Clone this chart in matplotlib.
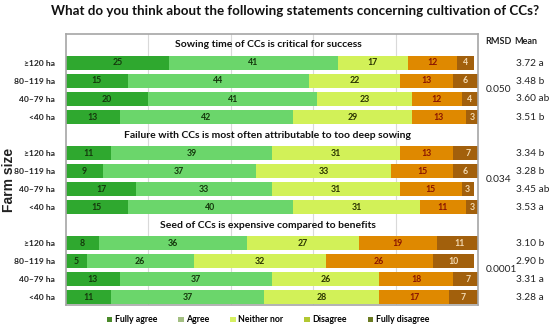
import matplotlib
matplotlib.use("Agg")
import matplotlib.pyplot as plt
from matplotlib.patches import Patch

plt.rcParams['font.family'] = ['Lato', 'DejaVu Sans']

title = "What do you think about the following statements concerning cultivation of CCs?"
statements = ["Sowing time of CCs is critical for success",
              "Failure with CCs is most often attributable to too deep sowing",
              "Seed of CCs is expensive compared to benefits"]
farm_sizes = ["≥120 ha", "80–119 ha", "40–79 ha", "<40 ha"]
categories = ["Fully agree", "Agree", "Neither nor", "Disagree", "Fully disagree"]

# values[statement][farm size] = [fully agree, agree, neither, disagree, fully disagree]
values_s1 = [[25, 41, 17, 12, 4], [15, 44, 22, 13, 6], [20, 41, 23, 12, 4], [13, 42, 29, 13, 3]]
values_s2 = [[11, 39, 31, 13, 7], [9, 37, 33, 15, 6], [17, 33, 31, 15, 3], [15, 40, 31, 11, 3]]
values_s3 = [[8, 36, 27, 19, 11], [5, 26, 32, 26, 10], [13, 37, 26, 18, 7], [11, 37, 28, 17, 7]]
rmsd = ["0.050", "0.034", "0.0001"]
means_s1 = ["3.72 a", "3.48 b", "3.60 ab", "3.51 b"]
means_s2 = ["3.34 b", "3.28 b", "3.45 ab", "3.53 a"]
means_s3 = ["3.10 b", "2.90 b", "3.31 a", "3.28 a"]

values = [values_s1, values_s2, values_s3]
means = [means_s1, means_s2, means_s3]

bar_colors = ["#2fa82f", "#6bd66b", "#d2f158", "#df8900", "#a2600c"]
text_colors = ["#14380c", "#14380c", "#2a3300", "#8a1500", "#f3d9b0"]
legend_colors = ["#4a8a2a", "#a3bf82", "#d6f062", "#b2c832", "#6b7b22"]

fig = plt.figure(figsize=(5.5, 3.28), dpi=100)
ax = fig.add_axes([66/550, 1-305/328, (478-66)/550, (305-34)/328])
ax.set_xlim(0, 100)
ax.set_ylim(14.44, -0.61)

yticks, ylabels = [], []
for s in range(3):
    base = s * 5
    ax.text(49, base, statements[s], ha='center', va='center', fontsize=7.5,
            fontweight='bold', color='#111111')
    for r in range(4):
        y = base + 1 + r
        yticks.append(y)
        ylabels.append(farm_sizes[r])
        left = 0
        for c, v in enumerate(values[s][r]):
            ax.barh(y, v, left=left, height=0.8, color=bar_colors[c], edgecolor='none', zorder=2)
            ax.text(left + v / 2, y, str(v), ha='center', va='center', fontsize=6.3,
                    fontweight='bold', color=text_colors[c], zorder=3)
            left += v
        fig.text(516/550, 1 - (45 + 18 * y) / 328, means[s][r], ha='left', va='center',
                 fontsize=7.3, color='#222222')
    fig.text(486/550, 1 - (45 + 18 * (base + 2.5)) / 328, rmsd[s], ha='left', va='center',
             fontsize=7.3, color='#222222')

fig.text(485/550, 1 - 41/328, "RMSD", ha='left', va='center', fontsize=6.5,
         fontweight='bold', color='#222222')
fig.text(514/550, 1 - 41/328, "Mean", ha='left', va='center', fontsize=6.5,
         fontweight='bold', color='#222222')

ax.set_yticks(yticks)
ax.set_yticklabels(ylabels, fontsize=6.1, fontweight='bold', color='#222222')
ax.tick_params(axis='y', length=0, pad=8)
ax.set_xticks([20, 40, 60, 80])
ax.tick_params(axis='x', length=0, labelbottom=False)
ax.grid(axis='x', color='#d9d9d9', linewidth=0.8, zorder=0)
ax.set_axisbelow(True)
for sp in ax.spines.values():
    sp.set_color('#a6a6a6')
    sp.set_linewidth(1.2)

fig.text(9/550, 1 - 180/328, "Farm size", rotation=90, ha='center', va='center',
         fontsize=10, fontweight='bold', color='#222222',
         family=['Liberation Sans', 'DejaVu Sans'])

fig.suptitle(title, x=295/550, y=1 - 11/328, va='center', fontsize=9.6, fontweight='bold',
             color='#111111')

handles = [Patch(facecolor=legend_colors[i], edgecolor='none', label=categories[i]) for i in range(5)]
fig.legend(handles=handles, loc='center', bbox_to_anchor=(268/550, 1 - 320/328), ncol=5,
           frameon=False, handlelength=0.6, handleheight=0.6,
           handletextpad=0.3, columnspacing=2.4, prop={'weight': 'bold', 'size': 6.3})

fig.savefig("out.png", dpi=100, facecolor='white')
